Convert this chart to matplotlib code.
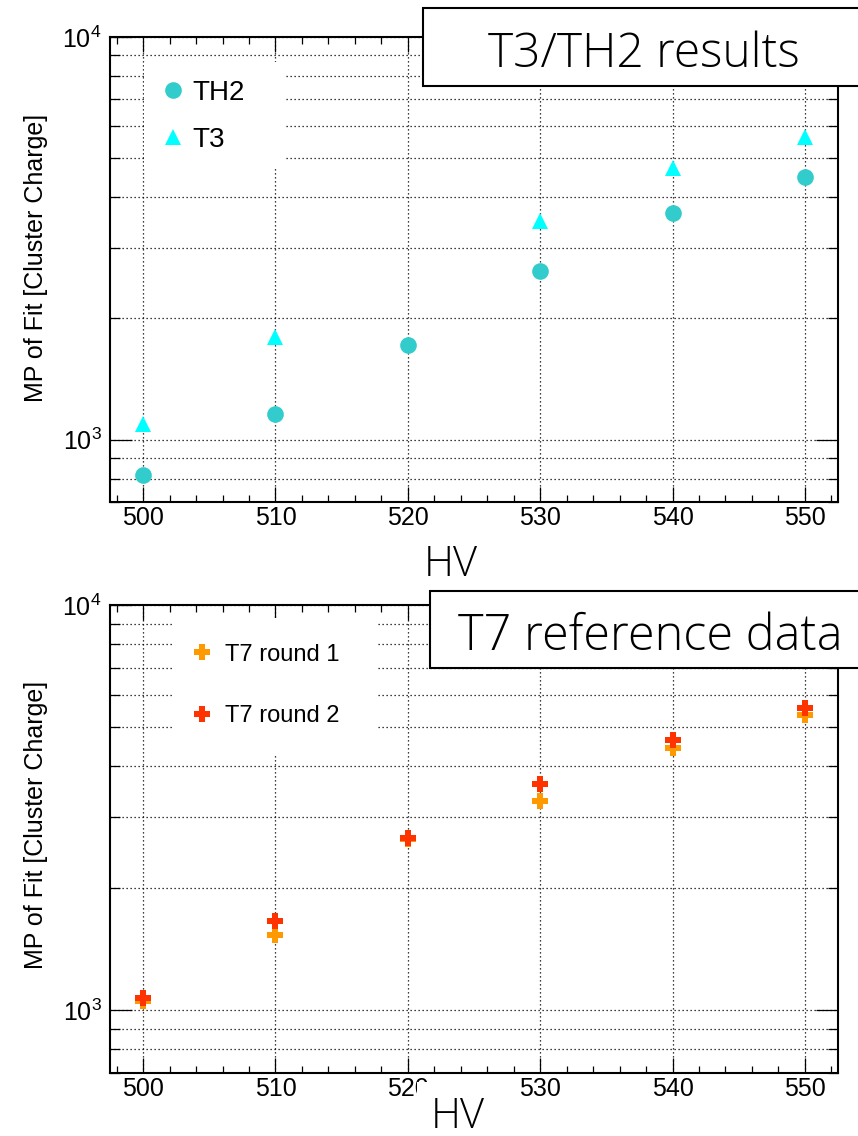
import matplotlib
matplotlib.use("Agg")
import matplotlib.pyplot as plt
import matplotlib.patches as patches
from matplotlib.ticker import MultipleLocator, LogLocator, NullFormatter

# values
hv = [500, 510, 520, 530, 540, 550]
th2_mp = [819, 1160, 1722, 2625, 3655, 4500]
t3_hv = [500, 510, 530, 540, 550]
t3_mp = [1096, 1802, 3492, 4730, 5650]
t7_round1 = [1052, 1530, 2650, 3290, 4445, 5360]
t7_round2 = [1070, 1656, 2655, 3608, 4645, 5570]

titles = ["T3/TH2 results", "T7 reference data"]
ylabel = "MP of Fit [Cluster Charge]"

plt.rcParams['font.family'] = ['Liberation Sans', 'DejaVu Sans']
plt.rcParams['mathtext.fontset'] = 'custom'
plt.rcParams['mathtext.rm'] = 'Liberation Sans'

light = dict(family=['Open Sans', 'DejaVu Sans'], fontweight='light')

W, H = 858, 1136
fig = plt.figure(figsize=(W / 100, H / 100), dpi=100)


def px_axes(x0, y0, x1, y1):
    return fig.add_axes([x0 / W, 1 - y1 / H, (x1 - x0) / W, (y1 - y0) / H])


def style(ax):
    ax.set_yscale('log')
    ax.set_xlim(497.5, 552.5)
    ax.set_ylim(700, 10000)
    ax.xaxis.set_major_locator(MultipleLocator(10))
    ax.xaxis.set_minor_locator(MultipleLocator(2))
    ax.yaxis.set_major_locator(LogLocator(base=10))
    ax.yaxis.set_minor_locator(LogLocator(base=10, subs=range(2, 10)))
    ax.yaxis.set_minor_formatter(NullFormatter())
    ax.set_axisbelow(True)
    ax.grid(True, axis='x', which='major', color='black', linestyle=(0, (1, 2.2)), linewidth=0.9)
    ax.grid(True, axis='y', which='both', color='black', linestyle=(0, (1, 2.2)), linewidth=0.9)
    ax.tick_params(axis='both', which='both', direction='in', top=True, right=True,
                   labelsize=18, width=0.9)
    ax.tick_params(axis='x', which='major', length=11, pad=3)
    ax.tick_params(axis='x', which='minor', length=5)
    ax.tick_params(axis='y', which='major', length=16, pad=6)
    ax.tick_params(axis='y', which='minor', length=7)
    for sp in ax.spines.values():
        sp.set_linewidth(1.5)
    ax.set_ylabel(ylabel, fontsize=18, va='center')


def title_box(text, x0, y0, y1, baseline, cx, size):
    fig.add_artist(patches.Rectangle((x0 / W, 1 - y1 / H), (W + 20 - x0) / W, (y1 - y0) / H,
                                     transform=fig.transFigure, facecolor='white',
                                     edgecolor='black', linewidth=1.5, zorder=5))
    fig.text(cx / W, 1 - baseline / H, text, ha='center', va='baseline', fontsize=size,
             zorder=6, **light)


# top panel
ax1 = px_axes(110, 37, 838, 502)
style(ax1)
ax1.add_patch(patches.Rectangle((0.047, 0.720), 0.195, 0.226, transform=ax1.transAxes,
                                facecolor='white', edgecolor='none', zorder=1))
ax1.plot(hv, th2_mp, linestyle='none', marker='o', markersize=12, color='#33cccc',
         markeredgewidth=0, label='TH2', zorder=3)
ax1.plot(t3_hv, t3_mp, linestyle='none', marker='^', markersize=12, color='#00ffff',
         markeredgewidth=0, label='T3', zorder=3)
ax1.legend(loc='upper left', bbox_to_anchor=(49 / 728, 0.9075), frameon=False, fontsize=20,
           borderpad=0, borderaxespad=0, handlelength=1.0, handletextpad=0.2,
           labelspacing=0.74)
ax1.set_xlabel('HV', fontsize=30, va='center', **light)
ax1.xaxis.set_label_coords(0.468, -0.1355)
ax1.yaxis.set_label_coords(-0.1016, 0.525)

# bottom panel
ax2 = px_axes(110, 605, 838, 1073)
style(ax2)
ax2.add_patch(patches.Rectangle((0.088, 0.6795), 0.279, 0.2927, transform=ax2.transAxes,
                                facecolor='white', edgecolor='none', zorder=1))
ax2.plot(hv, t7_round1, linestyle='none', marker='P', markersize=11, color='#ff9900',
         markeredgewidth=0, label='T7 round 1', zorder=3)
ax2.plot(hv, t7_round2, linestyle='none', marker='P', markersize=11, color='#ff3300',
         markeredgewidth=0, label='T7 round 2', zorder=4)
ax2.legend(loc='upper left', bbox_to_anchor=(80 / 728, 0.9175), frameon=False, fontsize=17,
           borderpad=0, borderaxespad=0, handlelength=1.0, handletextpad=0.5,
           labelspacing=1.66)
ax2.set_xlabel('HV', fontsize=30, va='center',
               bbox=dict(facecolor='white', edgecolor='none', pad=10), **light)
ax2.xaxis.set_label_coords(0.477, -0.093)
ax2.yaxis.set_label_coords(-0.1016, 0.53)

title_box(titles[0], 423, 8, 86, 67, 644, 34.5)
title_box(titles[1], 430, 591, 668, 650, 650, 35)

fig.savefig('out.png', dpi=100)
